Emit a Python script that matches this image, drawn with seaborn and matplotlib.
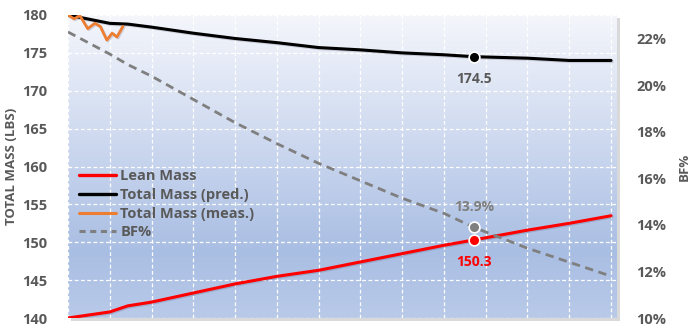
import numpy as np
import pandas as pd
import matplotlib
matplotlib.use("Agg")
import matplotlib.pyplot as plt
import matplotlib.patheffects as pe
from matplotlib.lines import Line2D
from matplotlib.colors import LinearSegmentedColormap
from matplotlib.patches import Rectangle
import seaborn as sns

# ---------------- data ----------------
days = [0, 7, 10, 14, 21, 28, 35, 42, 49, 56, 63, 68, 77, 84, 91]
lean_mass = [140.0, 140.8, 141.6, 142.1, 143.3, 144.5, 145.5, 146.3, 147.4, 148.5, 149.6, 150.3, 151.6, 152.5, 153.5]
total_pred = [180.0, 178.9, 178.8, 178.4, 177.6, 176.9, 176.35, 175.7, 175.4, 175.0, 174.75, 174.5, 174.3, 174.0, 174.0]
bf_pct = [22.3, 21.35, 20.9, 20.4, 19.4, 18.4, 17.5, 16.65, 15.9, 15.15, 14.5, 13.9, 13.0, 12.4, 11.8]

meas_days = [0, 1, 2, 3.3, 4.5, 5.4, 6.5, 7.4, 8.2, 9.2]
total_meas = [180.0, 179.5, 179.9, 178.2, 178.9, 178.5, 176.7, 177.6, 177.1, 178.5]

marker_day = 68
marker_total = 174.5
marker_lean = 150.3
marker_bf = 13.9

left_ticks = [140, 145, 150, 155, 160, 165, 170, 175, 180]
right_ticks = [10, 12, 14, 16, 18, 20, 22]

# ---------------- style ----------------
sns.set_style("white")
plt.rcParams['font.family'] = ['Open Sans', 'DejaVu Sans']
plt.rcParams['font.weight'] = 'bold'
GRAY = '#595959'

df = pd.DataFrame({'day': days, 'lean': lean_mass, 'pred': total_pred, 'bf': bf_pct})
dfm = pd.DataFrame({'day': meas_days, 'meas': total_meas})

fig = plt.figure(figsize=(6.9, 3.29), dpi=100)
L, B = 68 / 690, 1 - 318 / 329
W, H = (617 - 68) / 690, (318 - 15) / 329
ax = fig.add_axes([L, B, W, H])

# plot-area shadow (behind the axes)
fig.patches.append(Rectangle((L + 3 / 690, B - 3 / 329), W, H, transform=fig.transFigure,
                             facecolor='#000000', alpha=0.15, edgecolor='none', zorder=-5))

# gradient background
cmap = LinearSegmentedColormap.from_list('bg', [(0, '#b9cae9'), (0.22, '#a9bee3'), (0.6, '#cfdaf0'), (1, '#f4f6fb')])
grad = np.linspace(0, 1, 256).reshape(-1, 1)
ax.imshow(grad, extent=[0, 1, 0, 1], transform=ax.transAxes, origin='lower', cmap=cmap,
          aspect='auto', zorder=0)

shadow = [pe.SimpleLineShadow(offset=(0.8, -0.8), alpha=0.18, shadow_color='#303050'), pe.Normal()]

sns.lineplot(data=df, x='day', y='lean', ax=ax, color='#ff0000', lw=2.2, zorder=4, path_effects=shadow)
sns.lineplot(data=df, x='day', y='pred', ax=ax, color='#000000', lw=2.2, zorder=4, path_effects=shadow)
sns.lineplot(data=dfm, x='day', y='meas', ax=ax, color='#ed7d31', lw=2.0, zorder=4, path_effects=shadow)

ax.set_xlim(0, 92)
ax.set_ylim(140, 180)
ax.set_xticks(np.arange(0, 92, 7))
ax.set_yticks(left_ticks)
ax.set_yticklabels([str(t) for t in left_ticks], fontweight='bold')
ax.grid(True, color='white', ls=(0, (3, 2)), lw=0.9)
ax.set_axisbelow(True)
ax.tick_params(axis='x', length=0, labelbottom=False)
ax.tick_params(axis='y', length=0, pad=15, labelsize=10.5, labelcolor=GRAY)
for s in ax.spines.values():
    s.set_visible(False)
ax.set_xlabel('')
ax.set_ylabel('TOTAL MASS (LBS)', fontsize=9.5, color=GRAY, fontweight='bold', labelpad=3)

# twin axis for BF%
ax2 = ax.twinx()
sns.lineplot(data=df, x='day', y='bf', ax=ax2, color='#7f7f7f', lw=2.0, ls=(0, (3, 2)), zorder=3)
ax2.set_ylim(10, 23.03)
ax2.set_yticks(right_ticks)
ax2.set_yticklabels([f'{t}%' for t in right_ticks], fontweight='bold')
ax2.tick_params(axis='y', length=0, pad=14, labelsize=10.5, labelcolor=GRAY)
for s in ax2.spines.values():
    s.set_visible(False)
ax2.set_ylabel('BF%', fontsize=9.5, color=GRAY, fontweight='bold', labelpad=8)
ax2.grid(False)
ax2.set_xlim(0, 92)

# markers
ax2.scatter([marker_day], [marker_bf], s=60, color='#7f7f7f', edgecolor='white', lw=1.2, zorder=6)
ax.scatter([marker_day], [marker_total], s=60, color='#000000', edgecolor='white', lw=1.2, zorder=6)
ax.scatter([marker_day], [marker_lean], s=60, color='#ff0000', edgecolor='white', lw=1.2, zorder=6)
ax2.set_zorder(ax.get_zorder() + 1)
ax2.patch.set_visible(False)

def to_ax2(y):
    return ax2.transData.inverted().transform(ax.transData.transform((marker_day, y)))[1]

ax2.annotate(f'{marker_total}', xy=(marker_day, to_ax2(marker_total)),
             xytext=(0, -16), textcoords='offset points', ha='center', va='center', fontsize=10, color=GRAY, fontweight='bold')
ax2.annotate(f'{marker_bf}%', xy=(marker_day, marker_bf), xytext=(0, 14.5), textcoords='offset points',
             ha='center', va='center', fontsize=10, color='#7f7f7f', fontweight='bold')
ax2.annotate(f'{marker_lean}', xy=(marker_day, to_ax2(marker_lean)),
             xytext=(0, -16), textcoords='offset points', ha='center', va='center', fontsize=10, color='#ff0000', fontweight='bold')

handles = [Line2D([], [], color='#ff0000', lw=2.4), Line2D([], [], color='#000000', lw=2.4),
           Line2D([], [], color='#ed7d31', lw=2.2), Line2D([], [], color='#7f7f7f', lw=2.2, ls=(0, (2, 1.5)))]
labels = ['Lean Mass', 'Total Mass (pred.)', 'Total Mass (meas.)', 'BF%']
leg = ax2.legend(handles, labels, loc='upper left', bbox_to_anchor=(0.01, 0.51), frameon=False,
                 fontsize=10.5, handlelength=2.5, handletextpad=0.3, labelspacing=0.32, borderaxespad=0)
for t in leg.get_texts():
    t.set_color(GRAY)
    t.set_fontweight('bold')

fig.savefig('out.png', dpi=100)
